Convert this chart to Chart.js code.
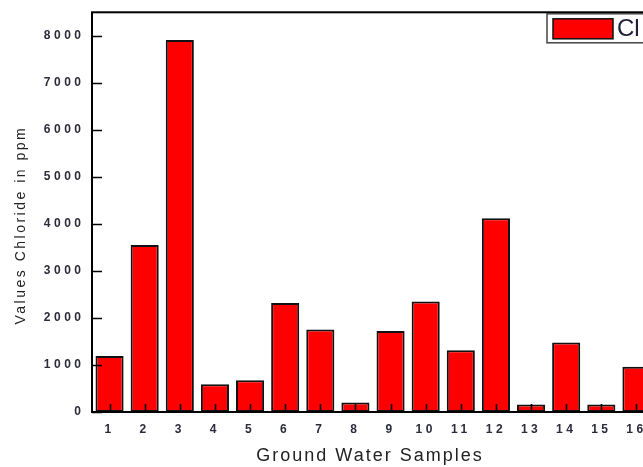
<!DOCTYPE html>
<html>
<head>
<meta charset="utf-8">
<script src="https://cdn.jsdelivr.net/npm/chart.js@4.4.0/dist/chart.umd.min.js"></script>
<style>
html, body { margin: 0; padding: 0; background: #fff; overflow: hidden; }
#wrap { position: relative; width: 700px; height: 467px; }
</style>
</head>
<body>
<div id="wrap"><canvas id="c" width="700" height="467"></canvas></div>
<script>
// ---- data ----
const categories = ['1','2','3','4','5','6','7','8','9','10','11','12','13','14','15','16'];
const chlorideValues = [1190, 3550, 7910, 590, 675, 2320, 1755, 200, 1720, 2350, 1315, 4120, 160, 1480, 160, 960];
const seriesLabel = 'Cl';
const yTickValues = [0, 1000, 2000, 3000, 4000, 5000, 6000, 7000, 8000];
const yMin = 0;
const yMax = 8500;
const xTitle = 'Ground Water Samples';
const yTitle = 'Values Chloride in ppm';

const TICK_SPACING = '3.5px';
const TITLE_SPACING_X = '2px';
const TITLE_SPACING_Y = '2.5px';

function wrapScale(scale, labelSpacing, titleSpacing, titleShift) {
  if (scale._wrapped) return;
  scale._wrapped = true;
  const origLabels = scale.drawLabels;
  const origTitle = scale.drawTitle;
  scale.drawLabels = function (...args) {
    const ctx = this.ctx;
    ctx.save();
    ctx.letterSpacing = labelSpacing;
    origLabels.apply(this, args);
    ctx.restore();
  };
  scale.drawTitle = function (...args) {
    const ctx = this.ctx;
    ctx.save();
    ctx.letterSpacing = titleSpacing;
    ctx.translate(titleShift[0], titleShift[1]);
    origTitle.apply(this, args);
    ctx.restore();
  };
}

const framePlugin = {
  id: 'frame',
  beforeDraw(chart) {
    wrapScale(chart.scales.x, TICK_SPACING, TITLE_SPACING_X, [-3, 0]);
    wrapScale(chart.scales.y, TICK_SPACING, TITLE_SPACING_Y, [0, 13]);
  },
  afterDatasetsDraw(chart) {
    const { ctx, chartArea: a, scales: { x, y } } = chart;
    ctx.save();
    ctx.strokeStyle = '#000';
    ctx.lineWidth = 2;
    ctx.strokeRect(a.left, a.top, a.right - a.left, a.bottom - a.top);
    ctx.lineWidth = 1.6;
    ctx.beginPath();
    yTickValues.forEach(v => {
      const py = Math.round(y.getPixelForValue(v)) + 0.5;
      ctx.moveTo(a.left, py);
      ctx.lineTo(a.left + 10, py);
    });
    categories.forEach((c, i) => {
      const px = Math.round(x.getPixelForValue(i)) + 0.5;
      ctx.moveTo(px, a.bottom);
      ctx.lineTo(px, a.bottom - 8);
    });
    ctx.stroke();

    // legend box (inside plot, top-right)
    const ds = chart.data.datasets[0];
    const bx = a.right - 107, by = a.top + 1.5, bw = 110, bh = 29;
    ctx.fillStyle = '#fff';
    ctx.fillRect(bx, by, bw, bh);
    ctx.strokeStyle = '#444';
    ctx.lineWidth = 1.5;
    ctx.strokeRect(bx, by, bw, bh);
    ctx.fillStyle = ds.backgroundColor;
    ctx.fillRect(bx + 6, by + 5, 60, 20);
    ctx.strokeStyle = '#111';
    ctx.lineWidth = 1.5;
    ctx.strokeRect(bx + 6, by + 5, 60, 20);
    ctx.fillStyle = '#1e1e3c';
    ctx.font = '24px "Liberation Sans", Arial, sans-serif';
    ctx.textBaseline = 'middle';
    ctx.textAlign = 'left';
    ctx.fillText(ds.label, bx + 70, by + bh / 2 + 1);
    ctx.restore();
  }
};

new Chart(document.getElementById('c'), {
  type: 'bar',
  data: {
    labels: categories,
    datasets: [{
      label: seriesLabel,
      data: chlorideValues,
      backgroundColor: '#ff0000',
      borderColor: '#111',
      borderWidth: 2,
      borderSkipped: false,
      barPercentage: 0.8,
      categoryPercentage: 1.0
    }]
  },
  options: {
    responsive: false,
    animation: false,
    devicePixelRatio: 1,
    layout: { padding: { left: 0, top: 12.3, right: 46, bottom: 0 } },
    plugins: { legend: { display: false }, tooltip: { enabled: false } },
    scales: {
      x: {
        offset: true,
        grid: { display: false, drawTicks: false },
        border: { display: false },
        ticks: {
          font: { family: '"Liberation Sans", Arial, sans-serif', size: 12, weight: 'bold' },
          color: '#2b2b3b',
          padding: 10,
          maxRotation: 0,
          autoSkip: false
        },
        title: {
          display: true,
          text: xTitle,
          font: { family: '"Liberation Sans", Arial, sans-serif', size: 18 },
          color: '#222',
          padding: { top: 0, bottom: 0 }
        },
        afterFit(s) { s.height = 55; s.paddingLeft = 0; s.paddingRight = 0; }
      },
      y: {
        min: yMin,
        max: yMax,
        grid: { display: false, drawTicks: false },
        border: { display: false },
        afterBuildTicks(s) { s.ticks = yTickValues.map(v => ({ value: v })); },
        ticks: {
          font: { family: '"Liberation Sans", Arial, sans-serif', size: 12, weight: 'bold' },
          color: '#2b2b3b',
          padding: 7.5,
          callback: v => String(v)
        },
        title: {
          display: true,
          text: yTitle,
          font: { family: '"Liberation Sans", Arial, sans-serif', size: 14 },
          color: '#222',
          padding: { top: 13, bottom: 0 }
        },
        afterFit(s) { s.width = 92; s.paddingTop = 0; s.paddingBottom = 0; }
      }
    }
  },
  plugins: [framePlugin]
});
</script>
</body>
</html>
